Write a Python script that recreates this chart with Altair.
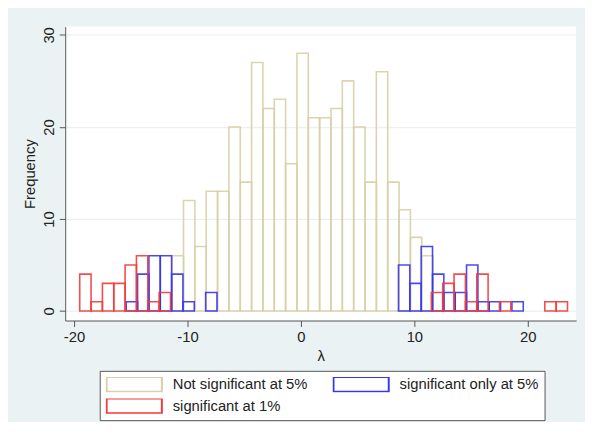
import altair as alt
import pandas as pd

groups = ["Not significant at 5%", "significant only at 5%", "significant at 1%"]
colors = ["#d8cfa6", "#3535f2", "#f23a3a"]

# bin width 1; first bin left edge per series
tan_start = -11.35
tan_counts = [6, 12, 7, 13, 13, 20, 14, 27, 22, 23, 16, 28, 21, 21, 22, 25, 20, 14, 26, 14, 11, 8, 6]

blue_start = -15.4
blue_counts = [1, 4, 6, 6, 4, 1, 0, 2, 0, 0, 0, 0, 0, 0, 0, 0, 0, 0, 0, 0, 0, 0, 0, 0,
               5, 3, 7, 4, 2, 2, 5, 1, 1, 0, 1]

red_start = -19.5
red_counts = [4, 1, 3, 3, 5, 6, 1, 2, 0, 0, 0, 0, 0, 0, 0, 0, 0, 0, 0, 0, 0, 0, 0, 0,
              0, 0, 0, 0, 0, 0, 0, 2, 3, 4, 1, 4, 0, 1, 0, 0, 0, 1, 1]

x_ticks = [-20, -10, 0, 10, 20]
y_ticks = [0, 10, 20, 30]

rows = []
for g, start, counts in [(groups[0], tan_start, tan_counts),
                         (groups[1], blue_start, blue_counts),
                         (groups[2], red_start, red_counts)]:
    for i, c in enumerate(counts):
        if c > 0:
            rows.append({"group": g, "left": start + i, "right": start + i + 1, "count": c})
df = pd.DataFrame(rows)

FONT = "Liberation Sans"

chart = alt.Chart(df).mark_rect(fill="transparent", strokeWidth=1.6, strokeOpacity=0.9).encode(
    x=alt.X("left:Q",
            scale=alt.Scale(domain=[-20.78, 24.26], nice=False, zero=False),
            axis=alt.Axis(values=x_ticks, title="λ", grid=False, tickSize=6,
                          labelExpr="'' + datum.value",
                          labelPadding=3, titlePadding=5, labelFontSize=15, titleFontSize=15,
                          titleFontWeight="normal", labelFont=FONT, titleFont=FONT,
                          domainColor="#555555", tickColor="#555555",
                          labelColor="#222222", titleColor="#222222")),
    x2="right:Q",
    y=alt.Y("count:Q",
            scale=alt.Scale(domain=[-1.04, 30.9], nice=False, zero=False),
            axis=alt.Axis(values=y_ticks, title="Frequency", grid=True, gridColor="#e8f0f2",
                          gridWidth=1.2, tickSize=6, labelAngle=270, labelAlign="center",
                          labelBaseline="bottom", labelPadding=3, titlePadding=4,
                          labelExpr="'' + datum.value",
                          labelFontSize=15, titleFontSize=15, titleFontWeight="normal",
                          labelFont=FONT, titleFont=FONT,
                          domainColor="#555555", tickColor="#555555",
                          labelColor="#222222", titleColor="#222222")),
    y2=alt.datum(0),
    stroke=alt.Stroke("group:N",
                      scale=alt.Scale(domain=groups, range=colors),
                      legend=alt.Legend(title=None, orient="none", legendX=35, legendY=349,
                                        direction="horizontal",
                                        columns=2, fillColor="white", strokeColor="#555555",
                                        padding=6, columnPadding=25, rowPadding=6,
                                        labelOffset=10, labelFontSize=15, labelFont=FONT,
                                        labelColor="#222222",
                                        symbolType="M-1,-0.268L1,-0.268L1,0.268L-1,0.268Z",
                                        symbolSize=3136, symbolStrokeWidth=2,
                                        symbolFillColor="white", clipHeight=15)),
).properties(
    width=518,
    height=298,
    autosize=alt.AutoSizeParams(type="none"),
    padding={"left": 58, "top": 16, "right": 9, "bottom": 100},
    background="#eaf2f3",
).configure_view(fill="white", strokeWidth=0)

chart.save("out.html", embed_options={"renderer": "svg", "actions": False})
